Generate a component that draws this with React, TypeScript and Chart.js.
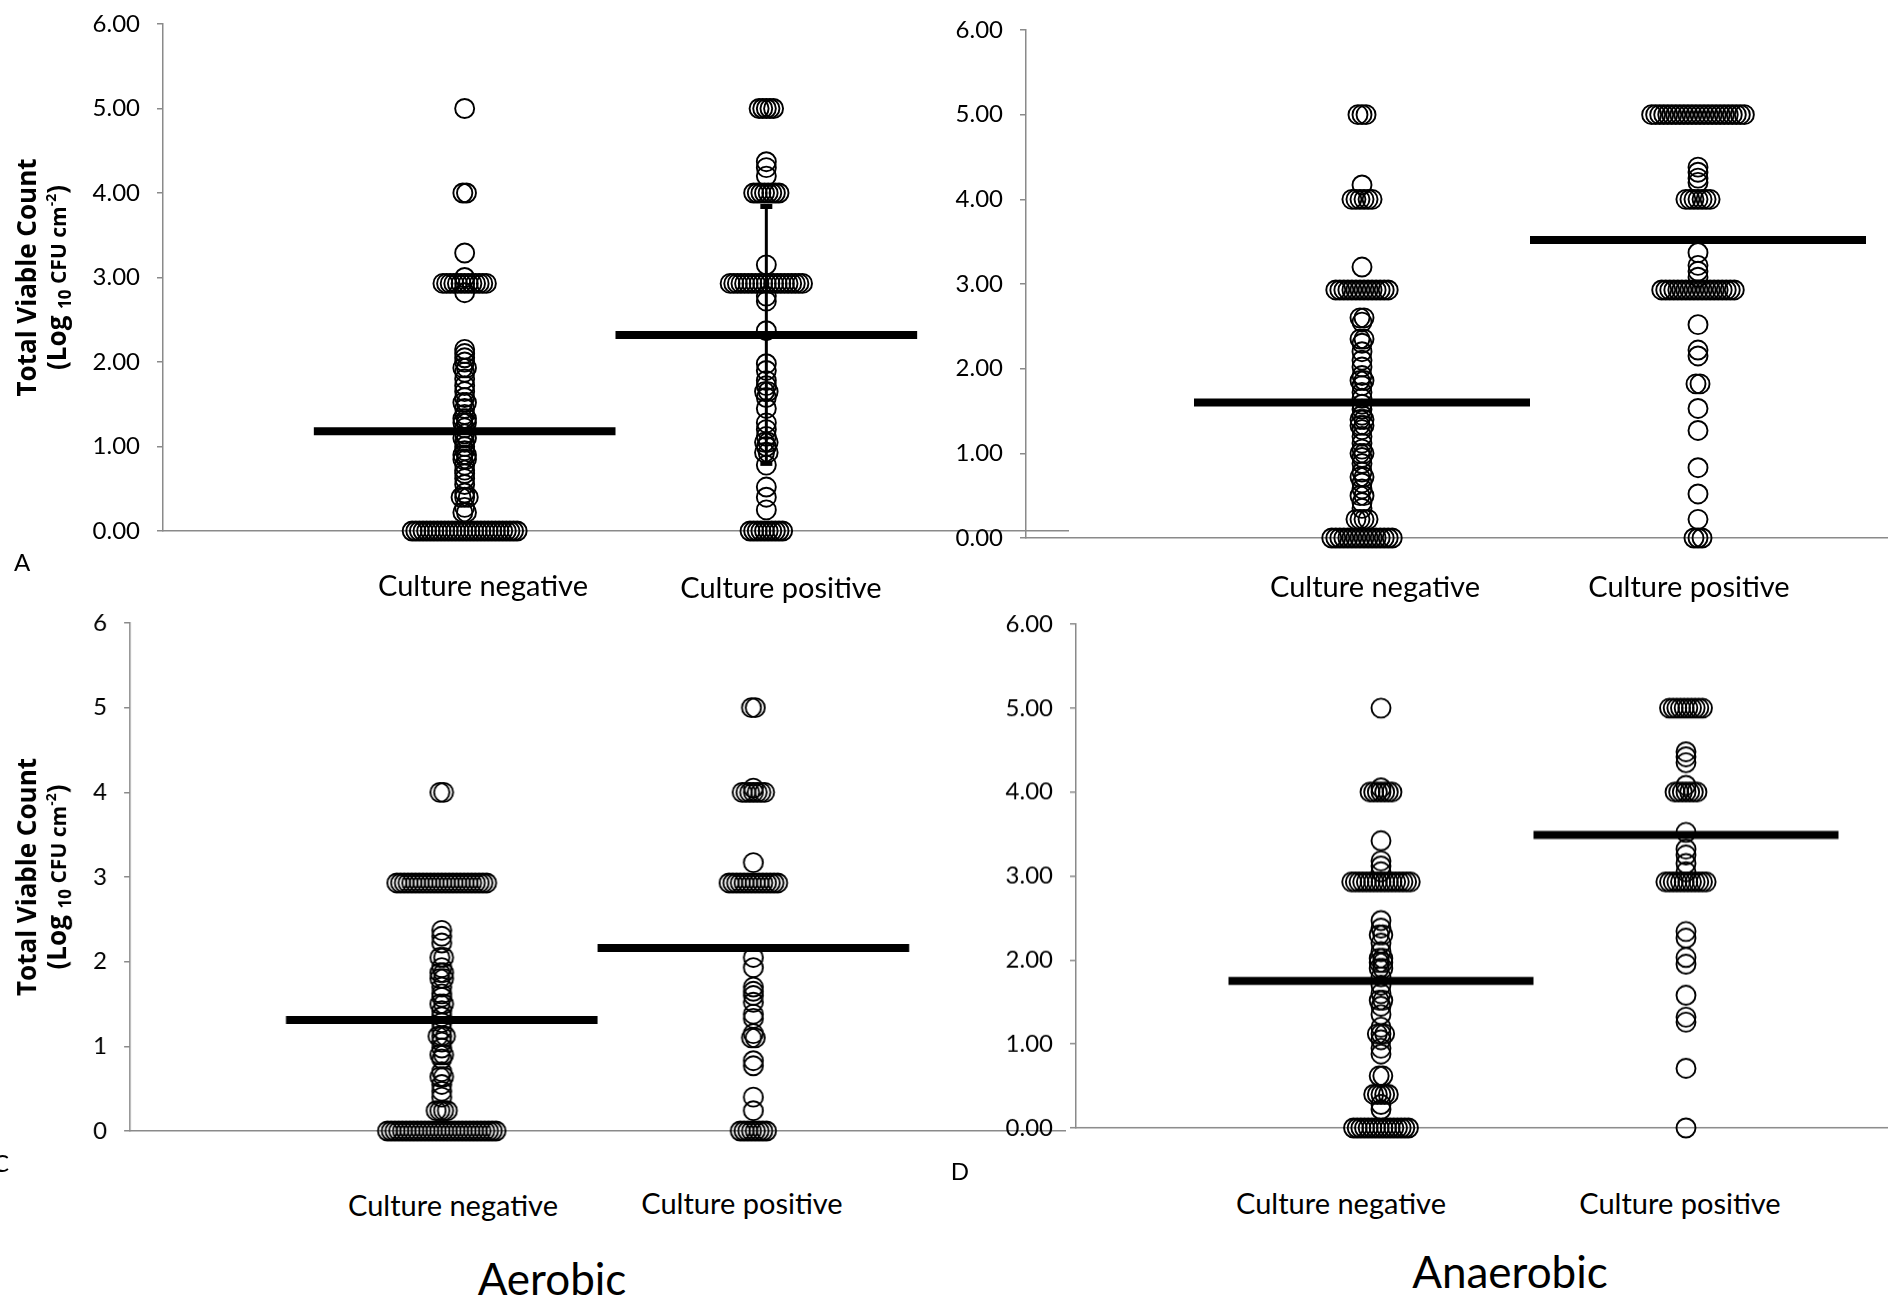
import React, { useEffect, useRef } from "react";
import { Chart, registerables } from "chart.js";

Chart.register(...registerables);

// ---------- text ----------
const categories = ["Culture negative", "Culture positive"];
const groupTitles = ["Aerobic", "Anaerobic"];
const panelLetters = ["A", "C", "D"];
const yTitleLine1 = "Total Viable Count";
const yTitleParts = ["(Log ", "10", " CFU cm", "-2", ")"];

// ---------- data: [log10 value, number of identical readings] ----------
const panelANegative = [
  [0, 30], [0.22, 2], [0.28, 1], [0.4, 3], [0.45, 1], [0.55, 1], [0.62, 1], [0.68, 1],
  [0.72, 1], [0.78, 1], [0.85, 2], [0.9, 2], [0.95, 1], [1.0, 1], [1.05, 1], [1.1, 2],
  [1.15, 1], [1.22, 1], [1.28, 2], [1.33, 2], [1.38, 1], [1.45, 1], [1.52, 2], [1.58, 1],
  [1.65, 1], [1.72, 1], [1.8, 1], [1.88, 1], [1.93, 2], [2.0, 1], [2.05, 1], [2.1, 1],
  [2.15, 1], [2.82, 1], [2.93, 13], [3.0, 1], [3.29, 1], [4.0, 2], [5.0, 1],
];
const panelAPositive = [
  [0, 10], [0.25, 1], [0.4, 1], [0.52, 1], [0.78, 1], [0.93, 2], [1.0, 1], [1.05, 2],
  [1.12, 1], [1.2, 1], [1.28, 1], [1.45, 1], [1.58, 1], [1.65, 2], [1.72, 1], [1.78, 1],
  [1.9, 1], [1.98, 1], [2.37, 1], [2.72, 1], [2.78, 1], [2.93, 21], [3.15, 1], [4.0, 8],
  [4.2, 1], [4.3, 1], [4.37, 1], [5.0, 5],
];
const panelBNegative = [
  [0, 16], [0.22, 4], [0.35, 1], [0.42, 1], [0.5, 2], [0.58, 1], [0.65, 1], [0.72, 2],
  [0.78, 1], [0.88, 1], [0.95, 1], [1.0, 2], [1.05, 1], [1.12, 1], [1.2, 1], [1.28, 1],
  [1.33, 2], [1.4, 2], [1.45, 1], [1.52, 1], [1.58, 1], [1.65, 1], [1.72, 1], [1.8, 1],
  [1.86, 2], [1.92, 1], [2.02, 1], [2.1, 1], [2.2, 1], [2.3, 1], [2.35, 2], [2.55, 1],
  [2.6, 2], [2.93, 14], [3.2, 1], [4.0, 6], [4.17, 1], [5.0, 3],
];
const panelBPositive = [
  [0, 3], [0.22, 1], [0.52, 1], [0.83, 1], [1.27, 1], [1.53, 1], [1.82, 2], [2.15, 1],
  [2.22, 1], [2.52, 1], [2.93, 19], [3.08, 1], [3.15, 1], [3.22, 1], [3.37, 1], [4.0, 7],
  [4.2, 1], [4.25, 1], [4.32, 1], [4.38, 1], [5.0, 24],
];
const panelCNegative = [
  [0, 30], [0.24, 4], [0.4, 1], [0.47, 1], [0.55, 1], [0.64, 2], [0.7, 1], [0.85, 1],
  [0.9, 2], [0.98, 1], [1.05, 1], [1.12, 3], [1.2, 1], [1.28, 1], [1.35, 1], [1.42, 1],
  [1.5, 2], [1.58, 1], [1.62, 1], [1.7, 1], [1.8, 2], [1.87, 2], [1.93, 1], [2.05, 2],
  [2.22, 1], [2.3, 1], [2.37, 1], [2.93, 25], [4.0, 2],
];
const panelCPositive = [
  [0, 8], [0.24, 1], [0.4, 1], [0.77, 1], [0.83, 1], [1.1, 2], [1.15, 1], [1.33, 1],
  [1.38, 1], [1.52, 1], [1.6, 1], [1.65, 1], [1.7, 1], [1.93, 1], [2.05, 1], [2.93, 14],
  [3.17, 1], [4.0, 7], [4.05, 1], [5.0, 2],
];
const panelDNegative = [
  [0, 16], [0.22, 1], [0.28, 1], [0.4, 5], [0.62, 2], [0.88, 1], [0.95, 1], [1.05, 1],
  [1.12, 3], [1.2, 1], [1.35, 1], [1.45, 1], [1.52, 2], [1.6, 1], [1.7, 1], [1.8, 1],
  [1.9, 2], [1.97, 2], [2.02, 2], [2.1, 1], [2.2, 1], [2.3, 2], [2.38, 1], [2.47, 1],
  [2.93, 17], [3.05, 1], [3.12, 1], [3.18, 1], [3.42, 1], [4.0, 7], [4.05, 1], [5.0, 1],
];
const panelDPositive = [
  [0, 1], [0.71, 1], [1.26, 1], [1.32, 1], [1.58, 1], [1.95, 1], [2.03, 1], [2.26, 1],
  [2.34, 1], [2.93, 12], [3.05, 1], [3.15, 1], [3.25, 1], [3.32, 1], [3.52, 1], [4.0, 7],
  [4.08, 1], [4.35, 1], [4.42, 1], [4.48, 1], [5.0, 10],
];

// group means (negative, positive)
const meansA = [1.18, 2.32];
const meansB = [1.6, 3.52];
const meansC = [1.31, 2.16];
const meansD = [1.75, 3.49];
// error bar on panel A, culture positive (low, high)
const errorBarA = [0.8, 3.84];

// ---------- styling / layout ----------
const AXIS = "#8a8a8a";
const DOT_STEP = 0.012; // horizontal spacing of identical readings (x units)
const TICK_FONT = "Lato";
const LABEL_FONT = "Lato";
const TITLE_FONT = "Open Sans";
const PAD = 45;

type Spec = {
  area: [number, number, number, number]; // left, top, right, bottom of plot area (page px)
  yAxisW: number;
  neg: number[][]; pos: number[][]; means: number[]; err?: number[];
  decimals: boolean; title: boolean;
};

const panels: Spec[] = [
  { area: [163, 24, 1068, 531], yAxisW: 163, neg: panelANegative, pos: panelAPositive,
    means: meansA, err: errorBarA, decimals: true, title: true },
  { area: [1026, 29.5, 2034, 537.5], yAxisW: 96, neg: panelBNegative, pos: panelBPositive,
    means: meansB, decimals: true, title: false },
  { area: [130, 622.5, 1064.5, 1130.5], yAxisW: 130, neg: panelCNegative, pos: panelCPositive,
    means: meansC, decimals: false, title: true },
  { area: [1076, 624.4, 1991, 1127.6], yAxisW: 96, neg: panelDNegative, pos: panelDPositive,
    means: meansD, decimals: true, title: false },
];

function expand(groups: number[][], cat: number) {
  const pts: { x: number; y: number }[] = [];
  for (const [v, n] of groups) {
    for (let i = 0; i < n; i++) pts.push({ x: cat + (i - (n - 1) / 2) * DOT_STEP, y: v });
  }
  return pts;
}

const yTitlePlugin = {
  id: "yTitle",
  afterDraw(chart: any) {
    const opts = chart.options.plugins.yTitle;
    if (!opts || !opts.show) return;
    const { ctx, chartArea } = chart;
    const cy = (chartArea.top + chartArea.bottom) / 2;
    const big = 26;
    ctx.save();
    ctx.fillStyle = "#000";
    ctx.textBaseline = "alphabetic";
    ctx.translate(opts.x1, cy);
    ctx.rotate(-Math.PI / 2);
    ctx.font = `bold ${big}px "${TITLE_FONT}"`;
    ctx.textAlign = "center";
    ctx.fillText(yTitleLine1, 0, big * 0.36);
    ctx.restore();

    const segs = [
      { t: yTitleParts[0], s: big, dy: 0 },
      { t: yTitleParts[1], s: 17, dy: 5 },
      { t: yTitleParts[2], s: 21, dy: 0 },
      { t: yTitleParts[3], s: 14, dy: -10 },
      { t: yTitleParts[4], s: big, dy: 0 },
    ];
    ctx.save();
    ctx.fillStyle = "#000";
    ctx.textBaseline = "alphabetic";
    ctx.textAlign = "left";
    ctx.translate(opts.x2, cy);
    ctx.rotate(-Math.PI / 2);
    let total = 0;
    for (const sg of segs) {
      ctx.font = `bold ${sg.s}px "${TITLE_FONT}"`;
      total += ctx.measureText(sg.t).width;
    }
    let x = -total / 2;
    for (const sg of segs) {
      ctx.font = `bold ${sg.s}px "${TITLE_FONT}"`;
      ctx.fillText(sg.t, x, big * 0.36 + sg.dy);
      x += ctx.measureText(sg.t).width;
    }
    ctx.restore();
  },
};

function canvasBox(sp: Spec) {
  const [l, t, r, b] = sp.area;
  return { left: l - sp.yAxisW, top: t - PAD, w: sp.yAxisW + (r - l) + PAD, h: b - t + 2 * PAD };
}

function buildConfig(sp: Spec): any {
  const box = canvasBox(sp);
  const datasets: any[] = [];
  sp.means.forEach((m, i) => {
    datasets.push({
      data: [{ x: i + 1 - 0.5, y: m }, { x: i + 1 + 0.5, y: m }],
      showLine: true, borderColor: "#000", borderWidth: 8, pointRadius: 0,
      borderCapStyle: "butt", order: 0, clip: false,
    });
  });
  if (sp.err) {
    datasets.push({
      data: [{ x: 2, y: sp.err[0] }, { x: 2, y: sp.err[1] }],
      showLine: true, borderColor: "#000", borderWidth: 3,
      pointStyle: "line", pointRadius: 6, pointBorderWidth: 5, pointBorderColor: "#000",
      order: 0, clip: false,
    });
  }
  [sp.neg, sp.pos].forEach((g, i) => {
    datasets.push({
      data: expand(g, i + 1),
      showLine: false, pointStyle: "circle", pointRadius: 9.5, pointBorderWidth: 1.9,
      pointBorderColor: "#000", pointBackgroundColor: "rgba(0,0,0,0)",
      order: 1, clip: false,
    });
  });
  return {
    type: "scatter",
    data: { datasets },
    plugins: [yTitlePlugin],
    options: {
      responsive: false,
      animation: false,
      events: [],
      layout: { padding: { left: 0, top: PAD, right: PAD, bottom: PAD } },
      plugins: {
        legend: { display: false },
        tooltip: { enabled: false },
        yTitle: { show: sp.title, x1: 26.5 - box.left, x2: 56.6 - box.left },
      },
      scales: {
        x: {
          type: "linear", min: 0, max: 3,
          ticks: { display: false },
          grid: { display: false, drawTicks: false },
          border: { display: true, color: AXIS, width: 1.5 },
          afterFit: (s: any) => { s.height = 0; },
        },
        y: {
          type: "linear", min: 0, max: 6,
          ticks: {
            stepSize: 1, color: "#000", padding: 17,
            font: { family: TICK_FONT, size: 24 },
            callback: (v: any) => (sp.decimals ? Number(v).toFixed(2) : String(v)),
          },
          grid: { display: true, drawOnChartArea: false, drawTicks: true, tickLength: 6, color: AXIS, lineWidth: 1.5 },
          border: { display: true, color: AXIS, width: 1.5 },
          afterFit: (s: any) => { s.width = sp.yAxisW; },
        },
      },
    },
  };
}

function Panel({ sp }: { sp: Spec }) {
  const ref = useRef<HTMLCanvasElement>(null);
  const box = canvasBox(sp);
  useEffect(() => {
    const chart = new Chart(ref.current as HTMLCanvasElement, buildConfig(sp));
    return () => chart.destroy();
  }, [sp]);
  return (
    <canvas
      ref={ref}
      width={box.w}
      height={box.h}
      style={{ position: "absolute", left: box.left, top: box.top, width: box.w, height: box.h }}
    />
  );
}

function Label({ text, x, y, size }: { text: string; x: number; y: number; size: number }) {
  return (
    <div
      style={{
        position: "absolute", left: x, top: y, transform: "translate(-50%, -50%)",
        fontFamily: LABEL_FONT, fontSize: size, lineHeight: 1, whiteSpace: "nowrap", color: "#000",
      }}
    >
      {text}
    </div>
  );
}

export default function App() {
  return (
    <div
      style={{
        position: "fixed", left: 0, top: 0, width: 1888, height: 1297,
        overflow: "hidden", background: "#fff",
      }}
    >
      {panels.map((sp, i) => (
        <Panel key={i} sp={sp} />
      ))}
      <Label text={categories[0]} x={483} y={584} size={29} />
      <Label text={categories[1]} x={781} y={586} size={29} />
      <Label text={categories[0]} x={1375} y={585} size={29} />
      <Label text={categories[1]} x={1689} y={585} size={29} />
      <Label text={categories[0]} x={453} y={1204} size={29} />
      <Label text={categories[1]} x={742} y={1202} size={29} />
      <Label text={categories[0]} x={1341} y={1202} size={29} />
      <Label text={categories[1]} x={1680} y={1202} size={29} />
      <Label text={panelLetters[0]} x={22} y={562} size={24} />
      <Label text={panelLetters[1]} x={1} y={1163} size={24} />
      <Label text={panelLetters[2]} x={960} y={1171} size={24} />
      <Label text={groupTitles[0]} x={552} y={1278} size={44} />
      <Label text={groupTitles[1]} x={1510} y={1271} size={44} />
    </div>
  );
}
